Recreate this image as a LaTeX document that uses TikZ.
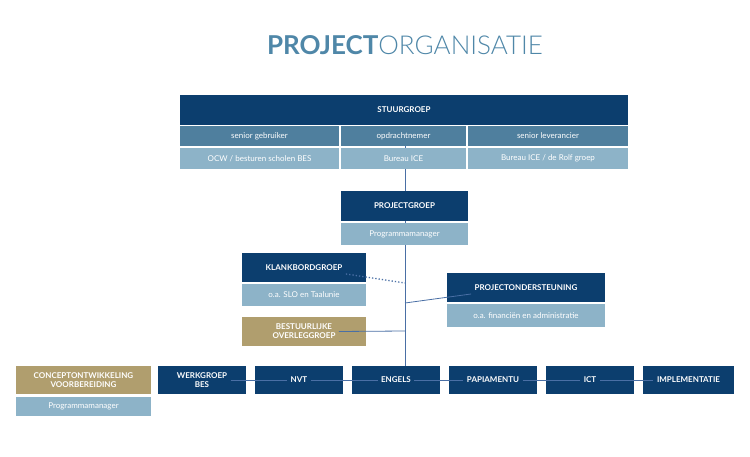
\documentclass[tikz,border=0pt]{standalone}
\usepackage{fontspec}
\setmainfont{Lato}
\begin{document}
\begin{tikzpicture}[x=1pt,y=-1pt,
  dark/.style={fill=dk,text=white,font=\bfseries\fontsize{8}{9}\selectfont,align=center},
  mid/.style={fill=md,text=white,font=\fontsize{8}{9}\selectfont},
  lite/.style={fill=lt,text=white,font=\fontsize{8}{9}\selectfont},
  gold/.style={fill=gd,text=white,font=\bfseries\fontsize{8}{9}\selectfont,align=center},
  ln/.style={draw=lc,line width=0.8pt}]
\definecolor{dk}{HTML}{0C3E6E}
\definecolor{md}{HTML}{4F7F9E}
\definecolor{lt}{HTML}{8DB3C8}
\definecolor{gd}{HTML}{B09E6E}
\definecolor{lc}{HTML}{4A6FA5}
\definecolor{tt}{HTML}{4F87A8}
\useasboundingbox (0,0) rectangle (750,457);
\newcommand\bx[5]{\path[#2] (#3) rectangle (#4) node[midway] (#1) {#5};}
\node[text=tt,font=\fontsize{26}{30}\selectfont] (title) at (405,45) {\textbf{PROJECT}{\fontspec{Lato Light}ORGANISATIE}};
% vertical trunk
\coordinate (t1) at (405,146);
\coordinate (t2) at (405,366);
\draw[ln] (t1) -- (t2);
\bx{sg}{dark}{180,95}{628,125}{STUURGROEP}
\bx{sa}{mid}{180,126}{339,146}{senior gebruiker}
\bx{sb}{mid}{341,126}{466,146}{opdrachtnemer}
\bx{sc}{mid}{468,126}{628,146}{senior leverancier}
\bx{sd}{lite}{180,148}{339,169}{OCW / besturen scholen BES}
\bx{se}{lite}{341,148}{466,169}{Bureau ICE}
\bx{sf}{lite}{468,148}{628,169}{Bureau ICE / de Rolf groep}
\bx{pg}{dark}{341,191}{468,221}{PROJECTGROEP}
\bx{pm}{lite}{341,223}{468,245}{Programmamanager}
\bx{kb}{dark}{242,253}{366,282}{KLANKBORDGROEP}
\bx{kl}{lite}{242,284}{366,306}{o.a. SLO en Taalunie}
\bx{po}{dark}{447,273}{605,302}{PROJECTONDERSTEUNING}
\bx{pl}{lite}{447,304}{605,327}{o.a. financiën en administratie}
\bx{bo}{gold}{242,317}{366,346}{BESTUURLIJKE\\OVERLEGGROEP}
\coordinate (d1) at (405,283);
\coordinate (d2) at (405,303);
\coordinate (d3) at (405,331);
\draw[lc,line width=1.3pt,dotted] (kb.south east) -- (d1);
\draw[ln] (d2) -- (po.south west);
\draw[ln] (d3) -- (bo.east);
\bx{w1}{dark}{158,366}{246,394}{WERKGROEP\\BES}
\bx{w2}{dark}{255,366}{343,394}{NVT}
\bx{w3}{dark}{352,366}{440,394}{ENGELS}
\bx{w4}{dark}{449,366}{537,394}{PAPIAMENTU}
\bx{w5}{dark}{546,366}{634,394}{ICT}
\bx{w6}{dark}{643,366}{734,394}{IMPLEMENTATIE}
\draw[ln] (w1) -- (w2); \draw[ln] (w2) -- (w3); \draw[ln] (w3) -- (w4);
\draw[ln] (w4) -- (w5); \draw[ln] (w5) -- (w6);
\bx{co}{gold}{16,366}{151,394}{CONCEPTONTWIKKELING\\VOORBEREIDING}
\bx{cm}{lite}{16,397}{151,416}{Programmamanager}
\end{tikzpicture}
\end{document}
